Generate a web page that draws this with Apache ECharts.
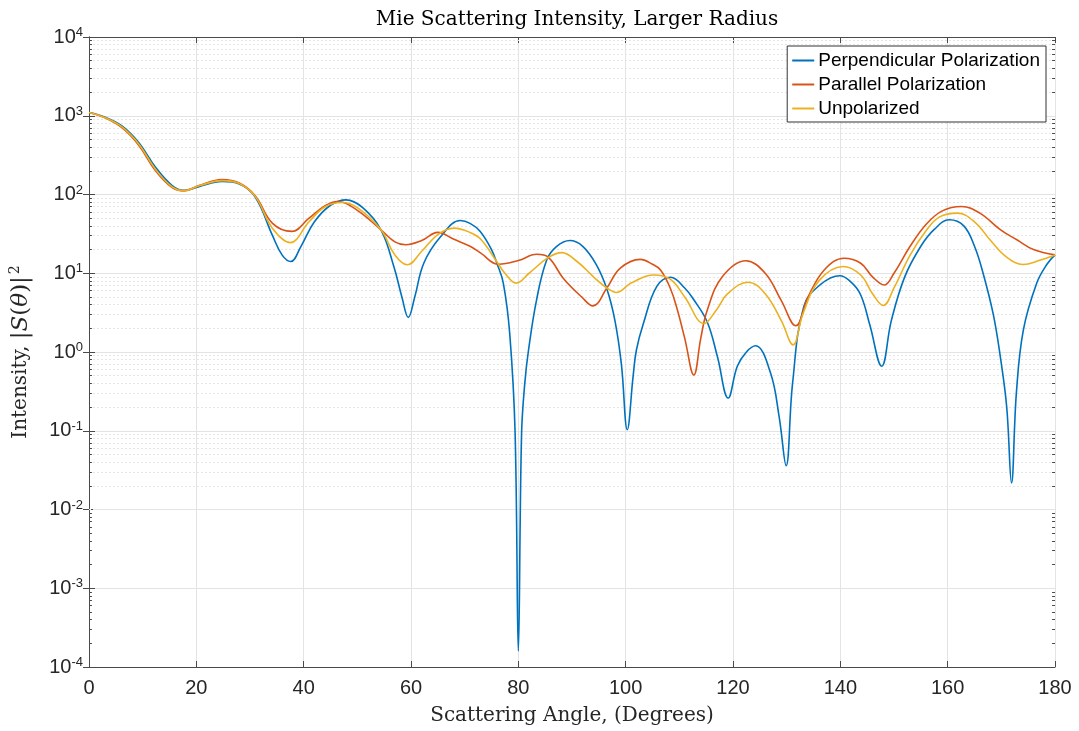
<!DOCTYPE html>
<html>
<head>
<meta charset="utf-8">
<script src="https://cdn.jsdelivr.net/npm/echarts@6/dist/echarts.min.js"></script>
<style>
html,body{margin:0;padding:0;background:#fff;}
#chart{width:1079px;height:731px;}
</style>
</head>
<body>
<div id="chart"></div>
<script>
// ---- data ----
var seriesNames = ['Perpendicular Polarization', 'Parallel Polarization', 'Unpolarized'];
var xTicks = [0, 20, 40, 60, 80, 100, 120, 140, 160, 180];
var yTickExponents = [-4, -3, -2, -1, 0, 1, 2, 3, 4];

var perpTheta = [0, 3, 6.2, 9.3, 12.4, 15.5, 17.7, 20.5, 24.8, 28, 31, 34.2, 36, 37.6, 39.5, 42, 45, 47.9, 51, 54.4, 56.8, 58.3, 59.5, 60.7, 62.4, 65.5, 69.2, 71, 72.9, 75, 76, 77.2, 78.4, 79.4, 80, 80.6, 81.2, 81.9, 83.4, 85.3, 87.1, 89.6, 92, 94.5, 96.5, 98, 99.2, 100.3, 101.4, 102, 103.3, 105.8, 108.4, 111, 112.7, 115.2, 117.1, 119.1, 120.8, 122.5, 124.2, 127, 128.6, 129.9, 131.1, 133.2, 136.2, 139.9, 142, 143.8, 145.5, 147.7, 149.5, 152, 155, 157.5, 160.3, 163, 165, 166.6, 168.5, 169.8, 171, 171.9, 172.8, 174.1, 176.6, 178.5, 180];
var perpI = [1100, 960, 740, 455, 222, 130, 113, 126, 146, 136, 92, 30, 17, 14.1, 22, 45, 73, 85.5, 68, 35.6, 12.2, 5, 2.75, 5, 13.5, 29, 46.8, 43, 34, 20, 13.4, 7.5, 1.7, 0.093, 0.00016, 0.09, 0.4, 1.06, 4.6, 14.8, 21.8, 26, 22, 13, 6.3, 2.5, 0.7, 0.103, 0.5, 1.06, 2.3, 6.8, 8.9, 6.5, 4.6, 2.4, 0.87, 0.26, 0.66, 1.0, 1.2, 0.54, 0.15, 0.036, 0.4, 3.8, 7.1, 9.3, 7.7, 5.3, 2.2, 0.66, 2.5, 9, 22, 36, 47.7, 40, 22, 10, 3, 0.88, 0.2, 0.0217, 0.3, 1.9, 7.5, 13, 17.1];

var parTheta = [0, 3, 6.2, 9.3, 12.4, 15.5, 17.7, 20.5, 24.8, 28, 31, 34.2, 37.8, 41, 44, 46.3, 50, 54.4, 57, 59, 62, 65, 68, 71, 73, 76.3, 80, 83.4, 85.6, 88.4, 91.8, 93.9, 96.5, 99, 102.7, 105, 106.5, 108.3, 109.6, 111, 112.7, 114, 115.2, 118, 122.4, 126, 129, 131.7, 134, 137, 140.7, 143.8, 146, 148.2, 150, 153, 156, 159, 162.6, 166, 170, 172.9, 176, 180];
var parI = [1100, 940, 700, 420, 200, 122, 111, 130, 155, 140, 96, 43, 34, 50, 72, 81.5, 63, 35.6, 25, 23, 26, 33, 27, 22, 18, 13, 14.5, 17.4, 15.9, 8.6, 5, 3.85, 6.5, 11.6, 15, 13, 11, 6.5, 3.5, 1.5, 0.51, 1.5, 3.4, 9, 14.4, 10, 4.5, 2.15, 5, 11, 15.5, 13.4, 9, 7.1, 10, 22, 42, 62, 70.5, 58, 35, 26.6, 20, 17.1];

var unpTheta = [0, 3, 6.2, 9.3, 12.4, 15.5, 17.7, 20.5, 24.8, 28, 31, 34.2, 37.5, 41, 44, 47.2, 50, 54.4, 57, 59.3, 62, 65, 68, 71, 73, 76, 77.5, 79.6, 82, 85.6, 88.1, 91, 94, 96.5, 98.3, 101, 105.2, 108.3, 111, 114.6, 117, 119, 122.8, 126, 129, 131.2, 133, 136, 140.5, 143.8, 146, 148, 150, 153, 156, 158.5, 161.8, 165, 168, 171, 174.1, 177, 180];
var unpI = [1100, 945, 715, 435, 208, 125, 112, 129, 150, 138, 94, 37, 24.5, 45, 70, 79, 68, 35.6, 17, 12.8, 19, 31, 37.4, 33, 27, 14, 10, 7.5, 10, 15.9, 18.3, 14, 9, 6.5, 5.7, 7.5, 9.5, 8.4, 5, 2.3, 3.5, 5.5, 7.7, 5.5, 2.5, 1.23, 3, 8, 12.2, 9.5, 5.5, 3.9, 6.5, 17, 35, 52, 58, 45, 26, 16, 12.9, 14.5, 17.1];

var colors = ['#0072BD', '#D95319', '#EDB120'];

function zip(a, b) { return a.map(function (v, i) { return [v, b[i]]; }); }

var X_MIN = xTicks[0], X_MAX = xTicks[xTicks.length - 1];
var Y_MIN = Math.pow(10, yTickExponents[0]), Y_MAX = Math.pow(10, yTickExponents[yTickExponents.length - 1]);

// minor grid / minor tick positions (2..9 x 10^n) for the log axis
var minorVals = [];
for (var e = yTickExponents[0]; e < yTickExponents[yTickExponents.length - 1]; e++) {
  for (var k = 2; k <= 9; k++) minorVals.push(k * Math.pow(10, e));
}
var minorGrid = minorVals.map(function (v) { return { yAxis: v }; });
var TICK_LEN_DEG = 0.55; // minor tick length expressed along x (≈3px)
var minorTicks = [];
minorVals.forEach(function (v) {
  minorTicks.push([{ coord: [X_MIN, v] }, { coord: [X_MIN + TICK_LEN_DEG, v] }]);
  minorTicks.push([{ coord: [X_MAX - TICK_LEN_DEG, v] }, { coord: [X_MAX, v] }]);
});

var chart = echarts.init(document.getElementById('chart'), null, { renderer: 'canvas' });

var axisColor = '#4a4a4a';
var textColor = '#262626';
var sans = 'Liberation Sans';
var serif = 'DejaVu Serif';

function yLabel(v) {
  var e = Math.round(Math.log10(v));
  return '{b|10}{s|' + e + '}';
}

var option = {
  backgroundColor: '#ffffff',
  animation: false,
  title: {
    text: 'Mie Scattering Intensity, Larger Radius',
    left: 572, top: 5, textAlign: 'center',
    textStyle: { fontFamily: serif, fontSize: 20, fontWeight: 'normal', color: '#000' }
  },
  legend: {
    data: seriesNames,
    orient: 'vertical',
    right: 33, top: 46,
    backgroundColor: '#fff',
    borderColor: '#333', borderWidth: 1,
    padding: [5, 6, 4, 5],
    itemGap: 5,
    itemWidth: 22, itemHeight: 2,
    icon: 'rect',
    z: 10,
    textStyle: { fontFamily: sans, fontSize: 19, color: '#000', padding: [0, 0, 0, -1] }
  },
  grid: { left: 88, right: 24, top: 37, bottom: 64 },
  xAxis: [{
    type: 'value', min: X_MIN, max: X_MAX, interval: 20,
    name: 'Scattering Angle, (Degrees)', nameLocation: 'middle', nameGap: 39,
    nameTextStyle: { fontFamily: serif, fontSize: 20, color: textColor },
    axisLine: { lineStyle: { color: axisColor, width: 1 } },
    axisTick: { inside: true, length: 6, lineStyle: { color: axisColor } },
    axisLabel: { fontFamily: sans, fontSize: 20, color: textColor, margin: 11 },
    splitLine: { show: true, lineStyle: { color: '#e3e3e3', width: 1 } }
  }, {
    type: 'value', min: X_MIN, max: X_MAX, interval: 20, position: 'top',
    axisLine: { show: true, lineStyle: { color: axisColor, width: 1 } },
    axisTick: { inside: true, length: 6, lineStyle: { color: axisColor } },
    axisLabel: { show: false }, splitLine: { show: false }
  }],
  yAxis: [{
    type: 'log', logBase: 10, min: Y_MIN, max: Y_MAX, splitNumber: 8,
    name: 'Intensity, {m||}{i|S}{m|(}{i|θ}{m|)|}{s|2}', nameLocation: 'middle', nameGap: 55, nameRotate: 90,
    nameTextStyle: {
      fontFamily: serif, fontSize: 20, color: textColor,
      rich: {
        m: { fontFamily: serif, fontSize: 23, lineHeight: 26, color: textColor },
        i: { fontFamily: serif, fontSize: 23, lineHeight: 26, fontStyle: 'italic', color: textColor },
        s: { fontFamily: serif, fontSize: 14, color: textColor, verticalAlign: 'top', lineHeight: 26, padding: [0, 0, 0, 2] }
      }
    },
    axisLine: { show: true, lineStyle: { color: axisColor, width: 1 } },
    axisTick: { inside: true, length: 6, lineStyle: { color: axisColor } },
    axisLabel: {
      formatter: yLabel, margin: 6,
      rich: {
        b: { fontFamily: sans, fontSize: 20, lineHeight: 22, color: textColor },
        s: { fontFamily: sans, fontSize: 13, lineHeight: 22, verticalAlign: 'top', color: textColor }
      }
    },
    splitLine: { show: true, lineStyle: { color: '#e3e3e3', width: 1 } }
  }, {
    type: 'log', logBase: 10, min: Y_MIN, max: Y_MAX, splitNumber: 8, position: 'right',
    axisLine: { show: true, lineStyle: { color: axisColor, width: 1 } },
    axisTick: { inside: true, length: 6, lineStyle: { color: axisColor } },
    axisLabel: { show: false }, splitLine: { show: false }
  }],
  series: [{
    name: 'minor-grid', type: 'line', data: [], silent: true, z: 1,
    markLine: {
      silent: true, symbol: 'none', animation: false, z: 1,
      label: { show: false },
      lineStyle: { color: '#e6e6e6', type: [2, 2], width: 1 },
      data: minorGrid
    }
  }, {
    name: 'minor-ticks', type: 'line', data: [], silent: true, z: 2,
    markLine: {
      silent: true, symbol: 'none', animation: false, z: 2,
      label: { show: false },
      lineStyle: { color: axisColor, type: 'solid', width: 1 },
      data: minorTicks
    }
  }, {
    name: seriesNames[0], type: 'line', data: zip(perpTheta, perpI),
    showSymbol: false, smooth: 0.4, z: 3,
    lineStyle: { color: colors[0], width: 1.6 }, itemStyle: { color: colors[0] }
  }, {
    name: seriesNames[1], type: 'line', data: zip(parTheta, parI),
    showSymbol: false, smooth: 0.4, z: 3,
    lineStyle: { color: colors[1], width: 1.6 }, itemStyle: { color: colors[1] }
  }, {
    name: seriesNames[2], type: 'line', data: zip(unpTheta, unpI),
    showSymbol: false, smooth: 0.4, z: 3,
    lineStyle: { color: colors[2], width: 1.6 }, itemStyle: { color: colors[2] }
  }]
};
chart.setOption(option);
</script>
</body>
</html>
